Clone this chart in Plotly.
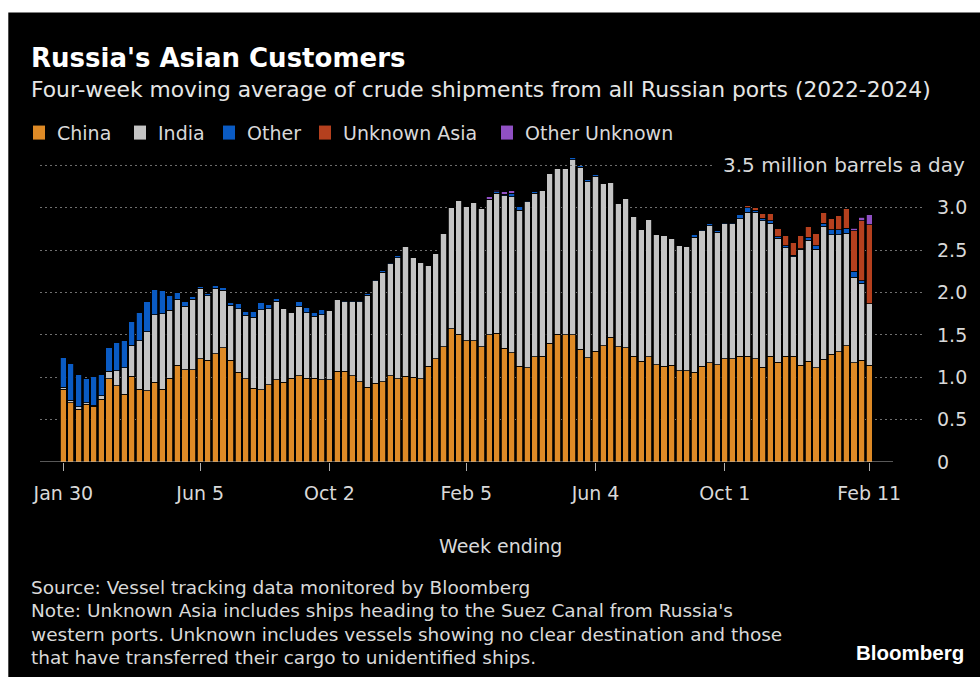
import plotly.graph_objects as go
import pandas as pd

# Weekly series: four-week moving average, million barrels a day
week_start = "2022-01-30"
week_end = "2024-02-11"

china = [0.86, 0.70, 0.62, 0.68, 0.66, 0.74, 0.98, 0.90, 0.80, 1.01,
         0.86, 0.84, 0.94, 0.86, 0.99, 1.14, 1.09, 1.09, 1.22, 1.20,
         1.28, 1.35, 1.20, 1.06, 0.98, 0.87, 0.85, 0.91, 0.97, 0.94,
         0.99, 1.02, 0.99, 0.99, 0.97, 0.97, 1.07, 1.07, 1.02, 0.95,
         0.88, 0.93, 0.95, 1.02, 0.98, 1.01, 1.00, 0.98, 1.13, 1.22,
         1.36, 1.57, 1.51, 1.43, 1.43, 1.36, 1.50, 1.52, 1.34, 1.29,
         1.13, 1.11, 1.24, 1.25, 1.40, 1.51, 1.50, 1.50, 1.33, 1.23,
         1.31, 1.37, 1.47, 1.36, 1.35, 1.25, 1.19, 1.24, 1.15, 1.13,
         1.14, 1.08, 1.08, 1.06, 1.13, 1.17, 1.15, 1.22, 1.22, 1.25,
         1.25, 1.22, 1.12, 1.25, 1.18, 1.25, 1.25, 1.14, 1.19, 1.11,
         1.21, 1.27, 1.30, 1.37, 1.17, 1.20, 1.14]

india = [0.02, 0.03, 0.03, 0.02, 0.01, 0.04, 0.09, 0.18, 0.31, 0.37,
         0.57, 0.70, 0.80, 0.89, 0.80, 0.78, 0.75, 0.83, 0.83, 0.76,
         0.77, 0.68, 0.65, 0.75, 0.75, 0.84, 0.95, 0.90, 0.93, 0.87,
         0.78, 0.82, 0.77, 0.73, 0.77, 0.82, 0.85, 0.82, 0.87, 0.94,
         1.09, 1.21, 1.29, 1.32, 1.43, 1.53, 1.41, 1.37, 1.19, 1.24,
         1.34, 1.43, 1.58, 1.59, 1.63, 1.63, 1.60, 1.65, 1.80, 1.84,
         1.84, 1.96, 1.93, 1.96, 2.01, 1.95, 1.97, 2.07, 2.15, 2.08,
         2.06, 1.92, 1.83, 1.69, 1.76, 1.65, 1.56, 1.62, 1.53, 1.54,
         1.50, 1.48, 1.46, 1.59, 1.60, 1.62, 1.56, 1.59, 1.59, 1.62,
         1.70, 1.73, 1.73, 1.57, 1.46, 1.28, 1.17, 1.37, 1.43, 1.40,
         1.57, 1.41, 1.38, 1.33, 1.01, 0.91, 0.73]

other = [0.35, 0.43, 0.38, 0.28, 0.34, 0.25, 0.28, 0.33, 0.33, 0.28,
         0.33, 0.35, 0.30, 0.28, 0.18, 0.08, 0.05, 0.03, 0.02, 0.03,
         0.03, 0.03, 0.03, 0.06, 0.05, 0.07, 0.08, 0.05, 0.03, 0.00,
         0.00, 0.05, 0.06, 0.05, 0.06, 0.00, 0.00, 0.02, 0.02, 0.02,
         0.02, 0.02, 0.02, 0.02, 0.03, 0.00, 0.00, 0.00, 0.00, 0.00,
         0.00, 0.00, 0.00, 0.00, 0.00, 0.00, 0.00, 0.02, 0.02, 0.04,
         0.04, 0.02, 0.02, 0.00, 0.00, 0.00, 0.00, 0.03, 0.02, 0.02,
         0.02, 0.00, 0.00, 0.00, 0.00, 0.00, 0.00, 0.00, 0.00, 0.00,
         0.00, 0.00, 0.00, 0.03, 0.02, 0.02, 0.02, 0.02, 0.02, 0.05,
         0.05, 0.02, 0.03, 0.03, 0.02, 0.02, 0.02, 0.01, 0.03, 0.04,
         0.04, 0.06, 0.06, 0.06, 0.07, 0.03, 0.00]

unknown_asia = [0.00, 0.00, 0.00, 0.00, 0.00, 0.00, 0.00, 0.00, 0.00, 0.00,
                0.00, 0.00, 0.00, 0.00, 0.00, 0.00, 0.00, 0.00, 0.00, 0.00,
                0.00, 0.00, 0.00, 0.00, 0.00, 0.00, 0.00, 0.00, 0.00, 0.00,
                0.00, 0.00, 0.00, 0.00, 0.00, 0.00, 0.00, 0.00, 0.00, 0.00,
                0.00, 0.00, 0.00, 0.00, 0.00, 0.00, 0.00, 0.00, 0.00, 0.00,
                0.00, 0.00, 0.00, 0.00, 0.00, 0.00, 0.00, 0.00, 0.00, 0.00,
                0.00, 0.00, 0.00, 0.00, 0.00, 0.00, 0.00, 0.00, 0.00, 0.00,
                0.00, 0.00, 0.00, 0.00, 0.00, 0.00, 0.00, 0.00, 0.00, 0.00,
                0.00, 0.00, 0.00, 0.00, 0.00, 0.00, 0.00, 0.00, 0.00, 0.00,
                0.03, 0.03, 0.05, 0.08, 0.10, 0.12, 0.15, 0.15, 0.13, 0.15,
                0.13, 0.13, 0.17, 0.23, 0.48, 0.71, 0.93]

other_unknown = [0.00, 0.00, 0.00, 0.00, 0.00, 0.00, 0.00, 0.00, 0.00, 0.00,
                 0.00, 0.00, 0.00, 0.00, 0.00, 0.00, 0.00, 0.00, 0.00, 0.00,
                 0.00, 0.00, 0.00, 0.00, 0.00, 0.00, 0.00, 0.00, 0.00, 0.00,
                 0.00, 0.00, 0.00, 0.00, 0.00, 0.00, 0.00, 0.00, 0.00, 0.00,
                 0.00, 0.00, 0.00, 0.00, 0.00, 0.00, 0.00, 0.00, 0.00, 0.00,
                 0.00, 0.00, 0.00, 0.00, 0.00, 0.00, 0.03, 0.02, 0.03, 0.03,
                 0.00, 0.00, 0.00, 0.00, 0.00, 0.00, 0.00, 0.00, 0.00, 0.00,
                 0.00, 0.00, 0.00, 0.00, 0.00, 0.00, 0.00, 0.00, 0.00, 0.00,
                 0.00, 0.00, 0.00, 0.00, 0.00, 0.00, 0.00, 0.00, 0.00, 0.00,
                 0.00, 0.00, 0.00, 0.00, 0.00, 0.00, 0.00, 0.00, 0.00, 0.00,
                 0.00, 0.00, 0.00, 0.00, 0.03, 0.04, 0.12]

series_names = ["China", "India", "Other", "Unknown Asia", "Other Unknown"]
series_colors = ["#DE8A26", "#C4C4C4", "#0A5BC4", "#B5401E", "#9050C4"]

tick_dates = ["2022-01-30", "2022-06-05", "2022-10-02", "2023-02-05",
              "2023-06-04", "2023-10-01", "2024-02-11"]
tick_labels = ["Jan 30", "Jun 5", "Oct 2", "Feb 5", "Jun 4", "Oct 1", "Feb 11"]

y_tickvals = [0, 0.5, 1.0, 1.5, 2.0, 2.5, 3.0]
y_ticktext = ["0", "0.5", "1.0", "1.5", "2.0", "2.5", "3.0"]

# ---- layout geometry (pixels) ----
W, H = 980, 677
ML, MR, MT, MB = 40, 58, 157.4, 215
PW, PH = W - ML - MR, H - MT - MB


def xp(px):
    return (px - ML) / PW


def yp(py):
    return (H - MB - py) / PH


weeks = pd.date_range(week_start, week_end, freq="7D")
day_ms = 86400000
x_lo = weeks[0] - pd.Timedelta(days=7 * 3.07)
x_hi = weeks[-1] + pd.Timedelta(days=7 * 6.94)

FONT = "DejaVu Sans"

fig = go.Figure()
for name, vals, color in zip(series_names,
                             [china, india, other, unknown_asia, other_unknown],
                             series_colors):
    fig.add_trace(go.Bar(
        x=weeks, y=vals, name=name,
        marker=dict(color=color, line=dict(color="#000000", width=0.8)),
        width=0.8 * 7 * day_ms,
        showlegend=False,
    ))

shapes = []
annotations = []

# white frame strips at the top and left edges
shapes.append(dict(type="rect", xref="paper", yref="paper",
                   x0=xp(0), x1=xp(8.3), y0=yp(H), y1=yp(0),
                   fillcolor="white", line=dict(width=0), layer="below"))
shapes.append(dict(type="rect", xref="paper", yref="paper",
                   x0=xp(0), x1=xp(W), y0=yp(13), y1=yp(0),
                   fillcolor="white", line=dict(width=0), layer="below"))

# 3.5 reference gridline, stopping short of its label
shapes.append(dict(type="line", xref="paper", yref="y",
                   x0=0, x1=xp(714), y0=3.5, y1=3.5,
                   line=dict(color="#707070", width=1, dash="2px,3px")))
annotations.append(dict(text="3.5 million barrels a day", xref="paper", yref="y",
                        x=xp(967), y=3.5, xanchor="right", yanchor="middle",
                        showarrow=False, font=dict(family=FONT, size=20, color="#d9d9d9")))

# baseline
shapes.append(dict(type="line", xref="paper", yref="y",
                   x0=0, x1=xp(893), y0=0, y1=0,
                   line=dict(color="#b0b0b0", width=1)))

# legend
legend_x = [33, 134, 223, 319, 501]
for name, color, lx in zip(series_names, series_colors, legend_x):
    shapes.append(dict(type="rect", xref="paper", yref="paper",
                       x0=xp(lx), x1=xp(lx + 12), y0=yp(140), y1=yp(126),
                       fillcolor=color, line=dict(width=0)))
    annotations.append(dict(text=name, xref="paper", yref="paper",
                            x=xp(lx + 22), y=yp(133), xanchor="left", yanchor="middle",
                            showarrow=False, font=dict(family=FONT, size=19, color="#d9d9d9")))

# titles
annotations.append(dict(text="<b>Russia's Asian Customers</b>", xref="paper", yref="paper",
                        x=xp(29), y=yp(59), xanchor="left", yanchor="middle",
                        showarrow=False, font=dict(family=FONT, size=26, color="#ffffff")))
annotations.append(dict(text="Four-week moving average of crude shipments from all Russian ports (2022-2024)",
                        xref="paper", yref="paper",
                        x=xp(29), y=yp(90), xanchor="left", yanchor="middle",
                        showarrow=False, font=dict(family=FONT, size=21.8, color="#e6e6e6")))

# axis title
annotations.append(dict(text="Week ending", xref="paper", yref="paper",
                        x=xp(500), y=yp(546), xanchor="center", yanchor="middle",
                        showarrow=False, font=dict(family=FONT, size=19, color="#d9d9d9")))

# footer
footer = [
    "Source: Vessel tracking data monitored by Bloomberg",
    "Note: Unknown Asia includes ships heading to the Suez Canal from Russia's",
    "western ports. Unknown includes vessels showing no clear destination and those",
    "that have transferred their cargo to unidentified ships.",
]
for line, fy in zip(footer, [587, 610, 634, 657]):
    annotations.append(dict(text=line, xref="paper", yref="paper",
                            x=xp(29), y=yp(fy), xanchor="left", yanchor="middle",
                            showarrow=False, font=dict(family=FONT, size=18.5, color="#d9d9d9")))
annotations.append(dict(text="<b>Bloomberg</b>", xref="paper", yref="paper",
                        x=xp(966), y=yp(652), xanchor="right", yanchor="middle",
                        showarrow=False, font=dict(family="Liberation Sans", size=20.5, color="#ffffff")))

fig.update_layout(
    width=W, height=H,
    margin=dict(l=ML, r=MR, t=MT, b=MB, pad=0),
    paper_bgcolor="#000000", plot_bgcolor="#000000",
    barmode="stack",
    showlegend=False,
    shapes=shapes, annotations=annotations,
    font=dict(family=FONT, color="#d9d9d9"),
    xaxis=dict(
        type="date", range=[x_lo, x_hi],
        tickvals=tick_dates, ticktext=tick_labels,
        ticks="outside", ticklen=8, tickcolor="#b0b0b0", tickwidth=1,
        showgrid=False, showline=False, zeroline=False,
        tickfont=dict(family=FONT, size=19, color="#d9d9d9"),
        ticklabelstandoff=6,
    ),
    yaxis=dict(
        range=[0, 3.6], side="right",
        tickvals=y_tickvals, ticktext=y_ticktext,
        ticks="", showline=False, zeroline=False,
        showgrid=True, gridcolor="#707070", gridwidth=1, griddash="2px,3px",
        tickfont=dict(family=FONT, size=19, color="#d9d9d9"),
        ticklabelstandoff=14,
    ),
)

fig.write_html("out.html")
